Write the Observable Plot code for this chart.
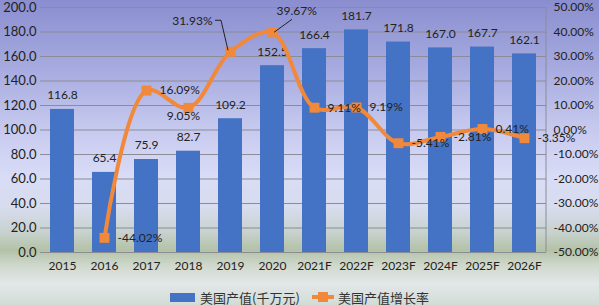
<!DOCTYPE html>
<html>
<head>
<meta charset="utf-8">
<script src="https://cdn.jsdelivr.net/npm/d3@7"></script>
<script src="https://cdn.jsdelivr.net/npm/@observablehq/plot@0.6"></script>
<style>
  body { margin: 0; }
  #wrap {
    width: 599px; height: 305px; position: relative; overflow: hidden;
    background: linear-gradient(to bottom, #8a8ecf 0%, #a6aadf 22%, #c6c9ee 42%, #d9dcf6 58%, #d7dcee 68%, #c8d2cf 76%, #b3c2a6 82%, #cfd8cd 87%, #e2e7e8 93%, #d2dcd6 100%);
    font-family: Lato, "Open Sans", sans-serif;
  }
  #wrap svg { overflow: visible; display: block; }
  .legend {
    position: absolute; left: 0; top: 288px; width: 599px; height: 18px;
    display: flex; justify-content: center; align-items: center;
    font-family: "Noto Sans CJK SC", sans-serif; font-size: 13px; color: #333;
  }
  .legend .item { display: flex; align-items: center; }
  .legend .bar { width: 25px; height: 9px; background: #4472c4; margin-right: 5px; }
  .legend .ln { position: relative; width: 22px; height: 10px; margin-right: 4px; margin-left: 12px; }
  .legend .ln::before { content: ""; position: absolute; left: 0; right: 0; top: 3px; height: 4px; background: #f0893b; }
  .legend .ln::after { content: ""; position: absolute; left: 6px; top: 0; width: 10px; height: 10px; background: #f0893b; }
</style>
</head>
<body>
<div id="wrap">
  <div id="chart"></div>
  <div class="legend">
    <div class="item"><span class="bar"></span><span>美国产值(千万元)</span></div>
    <div class="item"><span class="ln"></span><span>美国产值增长率</span></div>
  </div>
</div>
<script>
const years = ["2015","2016","2017","2018","2019","2020","2021F","2022F","2023F","2024F","2025F","2026F"];
const output = [116.8, 65.4, 75.9, 82.7, 109.2, 152.5, 166.4, 181.7, 171.8, 167.0, 167.7, 162.1];
const growth = [null, -44.02, 16.09, 9.05, 31.93, 39.67, 9.11, 9.19, -5.41, -2.81, 0.41, -3.35];
const leftTicks = [0, 20, 40, 60, 80, 100, 120, 140, 160, 180, 200];
const rightTicks = [-50, -40, -30, -20, -10, 0, 10, 20, 30, 40, 50];
// label placement for each growth label (layout only)
const growthLabelPlacement = ["none","right","right","below","upleft","upright","right","right","right","right","right","right"];

const orange = "#f0893b";
const blue = "#4472c4";

// map the right (percentage) axis onto the left scale: -50..50 -> 0..200
const toY = g => (g + 50) * 2;
const fromY = v => v / 2 - 50;

const rows = years.map((year, i) => ({year, output: output[i], growth: growth[i], place: growthLabelPlacement[i]}));
const growthRows = rows.filter(d => d.growth != null);

const textStyle = {fontSize: 12, fill: "#222", fontFamily: "Lato, 'Open Sans', sans-serif"};

function leaders(index, scales, values, dimensions) {
  const x = scales.x, y = scales.y;
  const bw = typeof x.bandwidth === "function" ? x.bandwidth() : (x.bandwidth || 0);
  const g = d3.create("svg:g").attr("fill", "none").attr("stroke", "#222").attr("stroke-width", 1);
  const cx = d => x(d.year) + bw / 2;
  const cy = d => y(toY(d.growth));
  for (const d of growthRows) {
    const px = cx(d), py = cy(d);
    if (d.place === "upleft") {
      g.append("path").attr("d", `M${px - 15},${py - 31}L${px - 9},${py - 31}L${px - 2},${py - 1}`);
    } else if (d.place === "upright") {
      g.append("path").attr("d", `M${px + 20},${py - 13}L${px + 2},${py}`);
    }
  }
  // right axis line
  const xr = dimensions.width - dimensions.marginRight;
  g.append("line").attr("x1", xr).attr("x2", xr)
    .attr("y1", dimensions.marginTop).attr("y2", dimensions.height - dimensions.marginBottom)
    .attr("stroke", "#8c8c96");
  return g.node();
}

const chart = Plot.plot({
  width: 599,
  height: 283,
  marginTop: 7,
  marginLeft: 40,
  marginRight: 53,
  marginBottom: 31,
  style: {background: "transparent", fontFamily: "Lato, 'Open Sans', sans-serif", fontSize: "12px", color: "#222"},
  x: {domain: years, paddingInner: 0.43, paddingOuter: 0.215, axis: null},
  y: {domain: [0, 200], axis: null},
  marks: [
    Plot.gridY({ticks: leftTicks, stroke: "#8c8c96", strokeOpacity: 1}),
    Plot.barY(rows, {x: "year", y: "output", fill: blue}),
    Plot.axisX({tickSize: 0, tickPadding: 9, fontSize: 12, fill: "#222", label: null}),
    Plot.axisY({anchor: "left", ticks: leftTicks, tickFormat: d => d.toFixed(1), tickSize: 0, tickPadding: 4, fontSize: 13, fill: "#222", label: null}),
    Plot.axisY({anchor: "right", ticks: rightTicks.map(toY), tickFormat: v => fromY(v).toFixed(2) + "%", tickSize: 0, tickPadding: 7, fontSize: 12, fill: "#222", label: null}),
    Plot.text(rows, {x: "year", y: "output", text: d => d.output.toFixed(1), dy: -14, ...textStyle}),
    Plot.line(growthRows, {x: "year", y: d => toY(d.growth), stroke: orange, strokeWidth: 4, curve: "catmull-rom"}),
    Plot.dot(growthRows, {x: "year", y: d => toY(d.growth), symbol: "square", r: 5.6, fill: orange, stroke: "none"}),
    leaders,
    Plot.text(growthRows.filter(d => d.place === "right"), {x: "year", y: d => toY(d.growth), text: d => d.growth.toFixed(2) + "%", textAnchor: "start", dx: 13, ...textStyle}),
    Plot.text(growthRows.filter(d => d.place === "below"), {x: "year", y: d => toY(d.growth), text: d => d.growth.toFixed(2) + "%", textAnchor: "middle", dx: -5, dy: 8, ...textStyle}),
    Plot.text(growthRows.filter(d => d.place === "upleft"), {x: "year", y: d => toY(d.growth), text: d => d.growth.toFixed(2) + "%", textAnchor: "end", dx: -18, dy: -31, ...textStyle}),
    Plot.text(growthRows.filter(d => d.place === "upright"), {x: "year", y: d => toY(d.growth), text: d => d.growth.toFixed(2) + "%", textAnchor: "start", dx: 4, dy: -22, ...textStyle})
  ]
});
document.getElementById("chart").appendChild(chart);
</script>
</body>
</html>
